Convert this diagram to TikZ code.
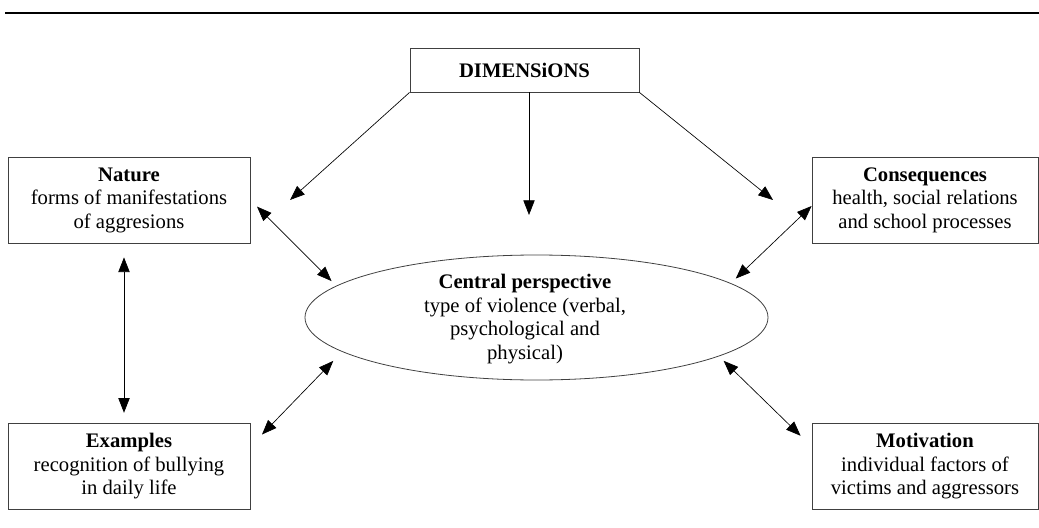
\documentclass[tikz,border=0pt]{standalone}
\usepackage{fontspec}
\setmainfont{Liberation Serif}
\usetikzlibrary{arrows.meta,shapes.geometric}

\tikzset{
  txt/.style={align=center, inner sep=0pt, font=\fontsize{15.5}{17.6}\selectfont},
  box/.style={txt, draw=black!75, line width=0.6pt},
  arr/.style={-{Triangle[length=11pt,width=8.5pt]}, line width=0.5pt},
  dbl/.style={{Triangle[length=11pt,width=8.5pt]}-{Triangle[length=11pt,width=8.5pt]}, line width=0.5pt},
}

\begin{document}
\begin{tikzpicture}[x=0.75pt, y=-0.75pt]
    \useasboundingbox (0,0) rectangle (1039,528);

    % Rule at the top
    \draw[line width=1.2pt] (5,13) -- (1039,13);

    % Boxes
    \node[box, minimum width=171.75pt, minimum height=33pt] (dim) at (524.5,70) {\textbf{DIMENSiONS}};
    \node[box, minimum width=181.5pt, minimum height=64.5pt] (nature) at (129,200)
        {\textbf{Nature}\\forms of manifestations\\of aggresions};
    \node[box, minimum width=169.5pt, minimum height=64.5pt] (conseq) at (925,200)
        {\textbf{Consequences}\\health, social relations\\and school processes};
    \node[box, minimum width=181.5pt, minimum height=65pt] (examples) at (129,466.5)
        {\textbf{Examples}\\recognition of bullying\\in daily life};
    \node[box, minimum width=169.5pt, minimum height=65pt] (motiv) at (925,466.5)
        {\textbf{Motivation}\\individual factors of\\victims and aggressors};

    % Central ellipse
    \node[ellipse, draw=black!75, line width=0.6pt, inner sep=0pt,
          minimum width=347.25pt, minimum height=93.75pt] (centre) at (536.5,317.5) {};
    \node[txt] (centretext) at (525,319)
        {\textbf{Central perspective}\\type of violence (verbal,\\psychological and\\physical)};

    % Free ends of the arrows from the top box
    \coordinate (natTip) at (290,200);
    \coordinate (cenTip) at (529,215);
    \coordinate (conTip) at (773,200);

    % Arrows from the top box
    \draw[arr] (dim.south west) -- (natTip);
    \draw[arr] (dim.south -| cenTip) -- (cenTip);
    \draw[arr] (dim.south east) -- (conTip);

    % Double arrows
    \draw[dbl, shorten <=7pt, shorten >=5pt] (nature.east) -- (centre.171);
    \draw[dbl, shorten >=5pt] ([yshift=-4.5pt]conseq.west) -- (centre.10);
    \draw[dbl, shorten <=10.5pt, shorten >=7.5pt] ([xshift=-3.75pt]nature.south) -- ([xshift=-3.75pt]examples.north);
    \draw[dbl, shorten <=12.5pt, shorten >=9.5pt] ([yshift=15pt]examples.east) -- (centre.190);
    \draw[dbl, shorten <=11.5pt, shorten >=4.8pt] ([yshift=15pt]motiv.west) -- (centre.348);
\end{tikzpicture}
\end{document}
